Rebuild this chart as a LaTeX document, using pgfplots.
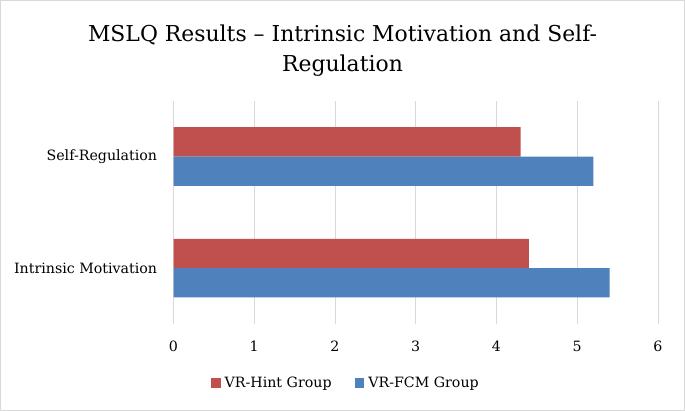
\documentclass[border=0pt]{standalone}
\usepackage{fontspec}
\setmainfont{DejaVu Serif}
\usepackage{pgfplots}
\pgfplotsset{compat=1.18}
\definecolor{hintred}{HTML}{C0504D}
\definecolor{fcmblue}{HTML}{4F81BD}
\definecolor{gridgray}{HTML}{D9D9D9}
\begin{document}
\begin{tikzpicture}
% chart area frame
\draw[gridgray, line width=0.8pt] (0.4pt,0.4pt) rectangle (684.6pt,410.6pt);
% title, two lines
\node[anchor=base, inner sep=0pt, font=\fontsize{21.9pt}{26pt}\selectfont] at (342.5pt,369.3pt) {MSLQ Results – Intrinsic Motivation and Self-};
\node[anchor=base, inner sep=0pt, font=\fontsize{21.9pt}{26pt}\selectfont] at (342.5pt,339.3pt) {Regulation};
\begin{axis}[
    at={(173.5pt,87pt)}, anchor=south west,
    scale only axis, width=484.5pt, height=223.3pt,
    xmin=0, xmax=6, ymin=0.5, ymax=2.5,
    xtick={0,1,...,6}, ytick={1,2},
    yticklabels={Intrinsic Motivation, Self-Regulation},
    axis line style={draw=none}, major tick length=0pt,
    xmajorgrids, grid style={gridgray, line width=0.9pt},
    xbar, bar width=29.3pt,
    /pgf/number format/assume math mode=true,
    ticklabel style={font=\fontsize{14.2pt}{17pt}\selectfont},
    xticklabel style={anchor=base, inner sep=0pt, yshift=-27.7pt},
    yticklabel style={anchor=east, inner sep=0pt, xshift=-16.2pt},
    legend columns=2,
    legend style={at={(0.354,-0.264)}, anchor=center, draw=none, fill=none,
        inner sep=0pt, nodes={inner sep=0pt},
        font=\fontsize{14.2pt}{17pt}\selectfont,
        /tikz/every odd column/.append style={column sep=4pt},
        /tikz/every even column/.append style={column sep=23.3pt}},
    legend image code/.code={\fill[#1] (0pt,-4.7pt) rectangle (9.4pt,4.7pt);},
]
\addplot[fill=hintred, draw=none, bar shift=14.65pt] coordinates {(4.4,1) (4.3,2)};
\addplot[fill=fcmblue, draw=none, bar shift=-14.65pt] coordinates {(5.4,1) (5.2,2)};
\legend{VR-Hint Group, VR-FCM Group}
\end{axis}
\end{tikzpicture}
\end{document}
